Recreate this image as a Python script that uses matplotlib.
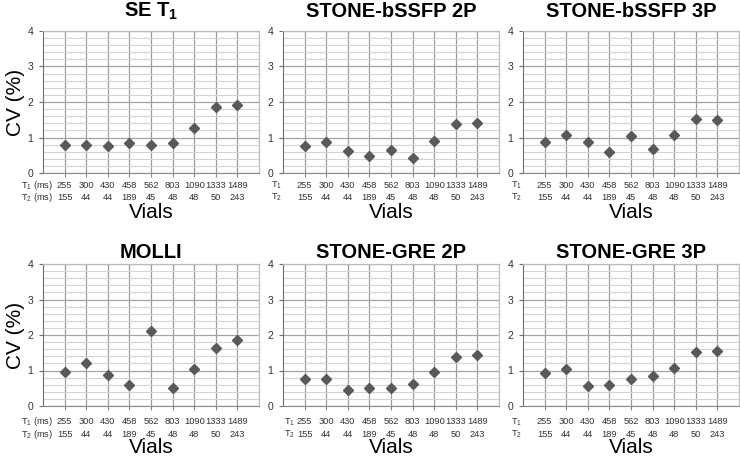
import numpy as np
import matplotlib
matplotlib.use("Agg")
import matplotlib.pyplot as plt
from matplotlib.ticker import MultipleLocator

plt.rcParams['font.family'] = ['Liberation Sans', 'DejaVu Sans']
plt.rcParams['mathtext.fontset'] = 'custom'
plt.rcParams['mathtext.rm'] = 'Liberation Sans'
plt.rcParams['mathtext.bf'] = 'Liberation Sans:bold'

t1_ms = ["255", "300", "430", "458", "562", "803", "1090", "1333", "1489"]
t2_ms = ["155", "44", "44", "189", "45", "48", "48", "50", "243"]

titles = [r"SE T$_\mathbf{1}$", "STONE-bSSFP 2P", "STONE-bSSFP 3P",
          "MOLLI", "STONE-GRE 2P", "STONE-GRE 3P"]

se_t1 = [0.79, 0.79, 0.77, 0.85, 0.79, 0.84, 1.28, 1.87, 1.92]
bssfp_2p = [0.75, 0.87, 0.61, 0.47, 0.66, 0.41, 0.89, 1.38, 1.41]
bssfp_3p = [0.88, 1.07, 0.86, 0.58, 1.04, 0.67, 1.06, 1.53, 1.49]
molli = [0.97, 1.21, 0.86, 0.59, 2.11, 0.51, 1.04, 1.62, 1.85]
gre_2p = [0.76, 0.76, 0.45, 0.51, 0.51, 0.62, 0.96, 1.39, 1.43]
gre_3p = [0.93, 1.04, 0.55, 0.59, 0.77, 0.85, 1.07, 1.53, 1.56]
series = [se_t1, bssfp_2p, bssfp_3p, molli, gre_2p, gre_3p]

W, H = 740, 457
fig = plt.figure(figsize=(W / 100, H / 100), dpi=100)

lefts = [43, 283, 523]
tops = [31, 264]
aw, ah = 216, 142
lab_fs = 6.7
row1_y = [-0.105, -0.13]   # T1 row baseline, per figure row
row2_y = [-0.19, -0.215]   # T2 row baseline
vials_y = [-0.28, -0.295]
title_y = [1.10, 1.04]

pos = np.arange(1, 10)
for k in range(6):
    r, c = divmod(k, 3)
    ax = fig.add_axes([lefts[c] / W, (H - tops[r] - ah) / H, aw / W, ah / H])
    ax.set_xlim(0, 10)
    ax.set_ylim(0, 4)
    ax.yaxis.set_major_locator(MultipleLocator(1))
    ax.yaxis.set_minor_locator(MultipleLocator(0.2))
    ax.set_xticks(pos)
    ax.set_xticklabels([])
    ax.grid(axis='y', which='major', color='#a3a3a3', lw=0.9)
    ax.grid(axis='y', which='minor', color='#d4d4d4', lw=0.8)
    ax.grid(axis='x', which='major', color='#9c9c9c', lw=0.9)
    ax.set_axisbelow(True)
    for s in ['top', 'right']:
        ax.spines[s].set_color('#bdbdbd')
        ax.spines[s].set_linewidth(0.9)
    ax.spines['left'].set_color('#6e6e6e')
    ax.spines['bottom'].set_color('#8a8a8a')
    ax.tick_params(axis='y', which='major', length=3, color='#6e6e6e',
                   labelsize=7.5, labelcolor='#333333', pad=4)
    ax.tick_params(axis='y', which='minor', length=0)
    ax.tick_params(axis='x', length=3, color='#8a8a8a')

    ax.plot(pos, series[k], linestyle='none', marker='D', markersize=5.5,
            color='#595959', markeredgecolor='#595959')

    tr = ax.get_xaxis_transform()
    y1, y2 = row1_y[r], row2_y[r]
    for i, p in enumerate(pos):
        ax.text(p, y1, t1_ms[i], transform=tr, ha='center', va='baseline',
                fontsize=lab_fs, color='#333333')
        ax.text(p, y2, t2_ms[i], transform=tr, ha='center', va='baseline',
                fontsize=lab_fs, color='#333333')
    if c == 0:
        ax.text(0.45, y1, r"T$_1$ (ms)", transform=tr, ha='right', va='baseline',
                fontsize=lab_fs, color='#333333')
        ax.text(0.45, y2, r"T$_2$ (ms)", transform=tr, ha='right', va='baseline',
                fontsize=lab_fs, color='#333333')
        ax.set_ylabel("CV (%)", fontsize=15, labelpad=2)
    elif k == 4:
        ax.text(0.05, y1, r"T$_1$", transform=tr, ha='left', va='baseline',
                fontsize=lab_fs, color='#333333')
        ax.text(0.05, y2, r"T$_2$", transform=tr, ha='left', va='baseline',
                fontsize=lab_fs, color='#333333')
    else:
        ax.text(-0.3, y1, r"T$_1$", transform=tr, ha='center', va='baseline',
                fontsize=lab_fs, color='#333333')
        ax.text(-0.3, y2, r"T$_2$", transform=tr, ha='center', va='baseline',
                fontsize=lab_fs, color='#333333')
    ax.text(0.5, vials_y[r], "Vials", transform=ax.transAxes, ha='center',
            va='center', fontsize=15)
    ax.text(0.5, title_y[r], titles[k], transform=ax.transAxes, ha='center',
            va='baseline', fontsize=14.5, fontweight='bold')

fig.savefig("out.png", dpi=100)
